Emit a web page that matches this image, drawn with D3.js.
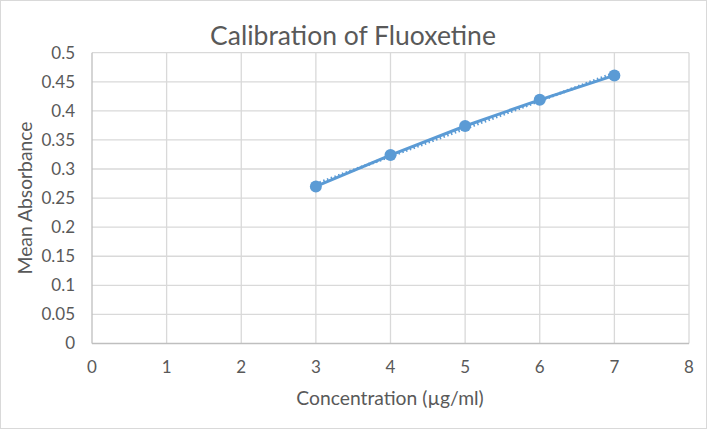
<!DOCTYPE html>
<html>
<head>
<meta charset="utf-8">
<script src="https://cdn.jsdelivr.net/npm/d3@7"></script>
<style>
  body { margin: 0; background: #fff; }
  text { font-family: Lato, "Open Sans", sans-serif; fill: #595959; }
</style>
</head>
<body>
<script>
// chart data
var concentration = [3, 4, 5, 6, 7];
var absorbance = [0.270, 0.324, 0.374, 0.419, 0.461];
var xTicks = [0, 1, 2, 3, 4, 5, 6, 7, 8];
var yTicks = [0, 0.05, 0.1, 0.15, 0.2, 0.25, 0.3, 0.35, 0.4, 0.45, 0.5];

function draw() {
    var width = 707, height = 429;
    var plotLeft = 92, plotRight = 689, plotTop = 52.7, plotBottom = 343.5;
    var blue = "#5B9BD5";

    var svg = d3.select("body").append("svg")
        .attr("width", width)
        .attr("height", height);

    // chart border
    svg.append("rect")
        .attr("x", 0.5).attr("y", 0.5)
        .attr("width", width - 1).attr("height", height - 1)
        .attr("fill", "#fff")
        .attr("stroke", "#D9D9D9");

    var x = d3.scaleLinear().domain([0, 8]).range([plotLeft, plotRight]);
    var y = d3.scaleLinear().domain([0, 0.5]).range([plotBottom, plotTop]);

    // gridlines
    svg.append("g").selectAll("line")
        .data(yTicks.slice(1))
        .enter().append("line")
        .attr("x1", plotLeft).attr("x2", plotRight)
        .attr("y1", function (d) { return y(d); })
        .attr("y2", function (d) { return y(d); })
        .attr("stroke", "#D9D9D9").attr("stroke-width", 1.3);

    svg.append("g").selectAll("line")
        .data(xTicks.slice(1))
        .enter().append("line")
        .attr("x1", function (d) { return x(d); })
        .attr("x2", function (d) { return x(d); })
        .attr("y1", plotTop).attr("y2", plotBottom)
        .attr("stroke", "#D9D9D9").attr("stroke-width", 1.3);

    // axis lines
    svg.append("line")
        .attr("x1", plotLeft).attr("x2", plotLeft)
        .attr("y1", plotTop).attr("y2", plotBottom)
        .attr("stroke", "#BFBFBF").attr("stroke-width", 1.3);
    svg.append("line")
        .attr("x1", plotLeft).attr("x2", plotRight)
        .attr("y1", plotBottom).attr("y2", plotBottom)
        .attr("stroke", "#BFBFBF").attr("stroke-width", 1.3);

    // tick labels
    svg.append("g").selectAll("text")
        .data(yTicks)
        .enter().append("text")
        .attr("x", 75)
        .attr("y", function (d) { return y(d); })
        .attr("dy", "0.35em")
        .attr("text-anchor", "end")
        .attr("font-size", 17)
        .text(function (d) { return String(+d.toFixed(2)); });

    svg.append("g").selectAll("text")
        .data(xTicks)
        .enter().append("text")
        .attr("x", function (d) { return x(d); })
        .attr("y", 373)
        .attr("text-anchor", "middle")
        .attr("font-size", 17)
        .text(function (d) { return d; });

    // titles
    svg.append("text")
        .attr("x", 353).attr("y", 45)
        .attr("text-anchor", "middle")
        .attr("font-size", 26.5)
        .text("Calibration of Fluoxetine");

    svg.append("text")
        .attr("x", 390).attr("y", 405)
        .attr("text-anchor", "middle")
        .attr("font-size", 19.3)
        .text("Concentration (µg/ml)");

    svg.append("text")
        .attr("transform", "translate(32,198) rotate(-90)")
        .attr("text-anchor", "middle")
        .attr("font-size", 19.3)
        .text("Mean Absorbance");

    // linear trendline (least squares on the data)
    var n = concentration.length;
    var mx = d3.mean(concentration), my = d3.mean(absorbance);
    var sxy = 0, sxx = 0;
    for (var i = 0; i < n; i++) {
        sxy += (concentration[i] - mx) * (absorbance[i] - my);
        sxx += (concentration[i] - mx) * (concentration[i] - mx);
    }
    var slope = sxy / sxx, intercept = my - slope * mx;
    var xMin = d3.min(concentration), xMax = d3.max(concentration);

    svg.append("line")
        .attr("x1", x(xMin)).attr("y1", y(intercept + slope * xMin))
        .attr("x2", x(xMax)).attr("y2", y(intercept + slope * xMax))
        .attr("stroke", blue)
        .attr("stroke-width", 3)
        .attr("stroke-dasharray", "1.5,2.5");

    // data line and markers
    var pts = concentration.map(function (c, i) { return [c, absorbance[i]]; });
    var line = d3.line()
        .x(function (d) { return x(d[0]); })
        .y(function (d) { return y(d[1]); });

    svg.append("path")
        .datum(pts)
        .attr("d", line)
        .attr("fill", "none")
        .attr("stroke", blue)
        .attr("stroke-width", 3);

    svg.append("g").selectAll("circle")
        .data(pts)
        .enter().append("circle")
        .attr("cx", function (d) { return x(d[0]); })
        .attr("cy", function (d) { return y(d[1]); })
        .attr("r", 6)
        .attr("fill", blue);
}

draw();
</script>
</body>
</html>
